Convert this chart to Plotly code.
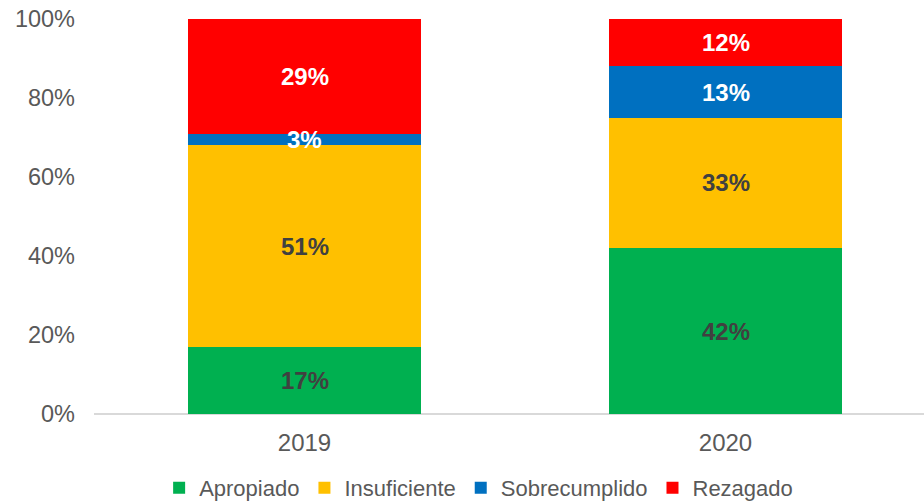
import plotly.graph_objects as go

categories = ["2019", "2020"]
series_names = ["Apropiado", "Insuficiente", "Sobrecumplido", "Rezagado"]
apropiado = [17, 42]
insuficiente = [51, 33]
sobrecumplido = [3, 13]
rezagado = [29, 12]
values = [apropiado, insuficiente, sobrecumplido, rezagado]
colors = ["#00B050", "#FFC000", "#0070C0", "#FF0000"]
label_colors = ["#404040", "#404040", "#FFFFFF", "#FFFFFF"]
y_tickvals = [0, 20, 40, 60, 80, 100]
y_ticktext = ["0%", "20%", "40%", "60%", "80%", "100%"]

FONT = "Liberation Sans, Arial, sans-serif"
xpos = list(range(len(categories)))

fig = go.Figure()
annotations = []
base = [0] * len(categories)
for name, vals, col, lcol in zip(series_names, values, colors, label_colors):
    fig.add_trace(go.Bar(
        x=xpos, y=vals, name=name, marker=dict(color=col, line=dict(width=0)),
        width=0.553, hoverinfo="skip",
    ))
    for i, v in enumerate(vals):
        annotations.append(dict(
            x=xpos[i], y=base[i] + v / 2, xref="x", yref="y",
            text=f"<b>{v}%</b>", showarrow=False,
            font=dict(family=FONT, size=24, color=lcol),
        ))
        base[i] += v

fig.update_layout(
    barmode="stack",
    width=924, height=502,
    margin=dict(l=94, r=0, t=19, b=88),
    plot_bgcolor="white", paper_bgcolor="white",
    font=dict(family=FONT, color="#595959"),
    annotations=annotations,
    showlegend=True,
    legend=dict(
        orientation="h", xref="container", yref="container",
        x=0.518, xanchor="center", y=0.028, yanchor="middle",
        font=dict(family=FONT, size=22, color="#595959"),
        itemwidth=30, traceorder="normal",
    ),
    xaxis=dict(
        range=[-0.5, -0.5 + 830 / 421],
        tickvals=xpos, ticktext=categories,
        tickfont=dict(family=FONT, size=24, color="#595959"),
        showgrid=False, zeroline=False,
        showline=False, ticks="", ticklabelstandoff=12,
    ),
    yaxis=dict(
        range=[0, 100], tickvals=y_tickvals, ticktext=y_ticktext,
        tickfont=dict(family=FONT, size=23.5, color="#595959"),
        showgrid=False, zeroline=True, zerolinecolor="#D9D9D9", zerolinewidth=2,
        showline=False, ticks="", ticklabelstandoff=18,
    ),
)

fig.write_html(
    "out.html",
    config={"displayModeBar": False},
    post_script="document.body.style.margin='0';document.body.style.overflow='hidden';",
)
